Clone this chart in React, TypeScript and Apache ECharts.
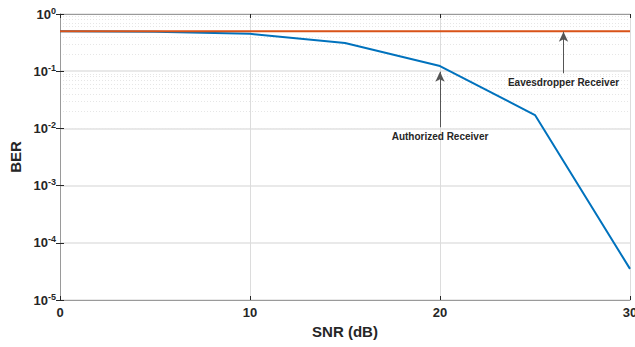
import React, { useEffect, useRef } from "react";
import * as echarts from "echarts";

const snr = [0, 5, 10, 15, 20, 25, 30];
const authorizedBER = [0.5, 0.49, 0.45, 0.31, 0.123, 0.0171, 3.5e-5];
const eavesdropperBER = [0.5, 0.5, 0.5, 0.5, 0.5, 0.5, 0.5];
const minorMantissas = [2, 3, 4, 5, 6, 7, 8, 9];
const minorDecades = [-5, -4, -3, -2, -1];
const authorizedArrow = { x: 20, from: 0.0105, to: 0.098, text: "Authorized Receiver" };
const eavesArrow = { x: 26.5, from: 0.092, to: 0.49, text: "Eavesdropper Receiver" };

const FONT = "'Liberation Sans', Arial, Helvetica, sans-serif";
const TXT = "#262626";

export default function App() {
  const ref = useRef<HTMLDivElement>(null);
  useEffect(() => {
    if (!ref.current) return;
    const chart = echarts.init(ref.current, undefined, { renderer: "svg" });
    const minorLines: any[] = [];
    minorDecades.forEach((d) =>
      minorMantissas.forEach((m) => minorLines.push({ yAxis: m * Math.pow(10, d) }))
    );
    const arrowLine = (a: any) => [
      {
        coord: [a.x, a.from],
        label: {
          show: true,
          position: "start",
          formatter: a.text,
          color: TXT,
          fontSize: 10,
          fontWeight: "bold",
          fontFamily: FONT,
          distance: 4,
        },
      },
      { coord: [a.x, a.to] },
    ];
    const supLabel = (v: number) => {
      const e = Math.round(Math.log10(v));
      return `{b|10}{s|${e}}`;
    };
    chart.setOption({
      animation: false,
      textStyle: { fontFamily: FONT },
      grid: { left: 60, right: 5, top: 14, bottom: 47, containLabel: false, outerBoundsMode: "none" },
      xAxis: [
        {
          type: "value",
          min: 0,
          max: 30,
          interval: 10,
          name: "SNR (dB)",
          nameLocation: "middle",
          nameGap: 20,
          nameTextStyle: { fontSize: 15, fontWeight: "bold", color: TXT, fontFamily: FONT },
          axisLine: { show: true, lineStyle: { color: "#9a9a9a", width: 1 } },
          axisTick: { show: true, inside: true, length: 4, lineStyle: { color: TXT } },
          axisLabel: { color: TXT, fontSize: 13, fontWeight: "bold", margin: 6, fontFamily: FONT },
          splitLine: { show: true, lineStyle: { color: "#dcdcdc", width: 1 } },
        },
        {
          type: "value",
          position: "top",
          min: 0,
          max: 30,
          interval: 10,
          axisLine: { show: true, lineStyle: { color: "#9a9a9a", width: 1 } },
          axisTick: { show: true, inside: true, length: 4, lineStyle: { color: TXT } },
          axisLabel: { show: false },
          splitLine: { show: false },
        },
      ],
      yAxis: [
        {
          type: "log",
          logBase: 10,
          min: 1e-5,
          max: 1,
          name: "BER",
          nameLocation: "middle",
          nameGap: 34,
          nameTextStyle: { fontSize: 15, fontWeight: "bold", color: TXT, fontFamily: FONT },
          axisLine: { show: true, lineStyle: { color: "#9a9a9a", width: 1 } },
          axisTick: { show: true, inside: true, length: 4, lineStyle: { color: TXT } },
          axisLabel: {
            margin: 4,
            formatter: supLabel,
            rich: {
              b: { fontSize: 13, fontWeight: "bold", color: TXT, fontFamily: FONT, lineHeight: 16 },
              s: {
                fontSize: 9,
                fontWeight: "bold",
                color: TXT,
                fontFamily: FONT,
                verticalAlign: "top",
                lineHeight: 16,
                padding: [0, 0, 12, 0],
              },
            },
          },
          splitLine: { show: true, lineStyle: { color: "#e2e2e2", width: 1.5 } },
        },
        {
          type: "log",
          logBase: 10,
          min: 1e-5,
          max: 1,
          position: "right",
          axisLine: { show: true, lineStyle: { color: "#9a9a9a", width: 1 } },
          axisTick: { show: true, inside: true, length: 4, lineStyle: { color: TXT } },
          axisLabel: { show: false },
          splitLine: { show: false },
        },
      ],
      series: [
        {
          type: "line",
          name: "grid",
          data: [],
          silent: true,
          z: 0,
          markLine: {
            silent: true,
            z: 0,
            symbol: ["none", "none"],
            label: { show: false },
            lineStyle: { color: "#e6e6e6", type: [1, 2], width: 1 },
            data: minorLines,
          },
        },
        {
          type: "line",
          name: "Authorized Receiver",
          data: snr.map((x, i) => [x, authorizedBER[i]]),
          showSymbol: false,
          lineStyle: { color: "#0072BD", width: 2 },
          itemStyle: { color: "#0072BD" },
          z: 3,
          markLine: {
            silent: true,
            symbol: ["none", "arrow"],
            symbolSize: [7, 10],
            lineStyle: { color: "#555555", type: "solid", width: 1 },
            itemStyle: { color: "#111111" },
            data: [arrowLine(authorizedArrow)],
          },
        },
        {
          type: "line",
          name: "Eavesdropper Receiver",
          data: snr.map((x, i) => [x, eavesdropperBER[i]]),
          showSymbol: false,
          lineStyle: { color: "#D95319", width: 2 },
          itemStyle: { color: "#D95319" },
          z: 4,
          markLine: {
            silent: true,
            symbol: ["none", "arrow"],
            symbolSize: [7, 10],
            lineStyle: { color: "#555555", type: "solid", width: 1 },
            itemStyle: { color: "#111111" },
            data: [arrowLine(eavesArrow)],
          },
        },
      ],
    });
    return () => chart.dispose();
  }, []);
  return (
    <div
      ref={ref}
      style={{ position: "absolute", left: 0, top: 0, width: 635, height: 347 }}
    />
  );
}
